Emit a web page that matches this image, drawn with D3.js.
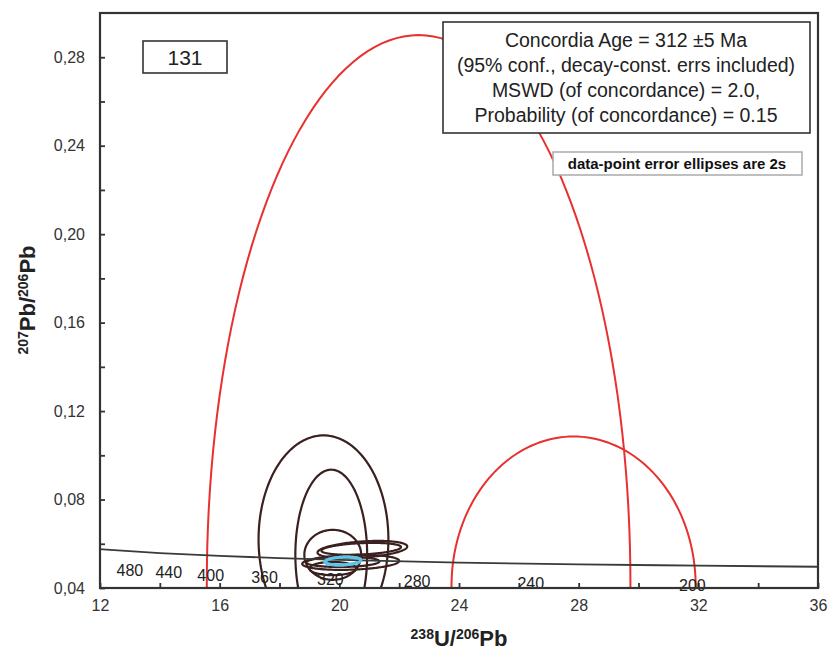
<!DOCTYPE html>
<html>
<head>
<meta charset="utf-8">
<script src="https://cdn.jsdelivr.net/npm/d3@7"></script>
<style>
  body { margin: 0; background: #fff; }
  svg text { font-family: "Liberation Sans", Arial, sans-serif; }
</style>
</head>
<body>
<div id="chart-area"></div>
<script>
// Concordia curve (238U/206Pb vs 207Pb/206Pb)
const concX = [12, 14, 16, 18, 20, 24, 28, 32, 36];
const concY = [0.0576, 0.0558, 0.0545, 0.0535, 0.0527, 0.0515, 0.0507, 0.0501, 0.0496];

// Age marks along the concordia (Ma) and where their labels sit on the x axis
const ages = [480, 440, 400, 360, 320, 280, 240, 200];
const ageX = [13.0, 14.3, 15.7, 17.5, 19.7, 22.6, 26.4, 31.8];

// Error ellipses: centre, half-widths (2s) and correlation
const ellType = ["rejected", "rejected", "accepted", "accepted", "accepted", "accepted", "accepted", "accepted", "accepted", "accepted", "mean"];
const ellX    = [22.65, 27.83, 19.47, 19.73, 19.78, 20.77, 20.73, 20.38, 20.12, 19.78, 20.12];
const ellY    = [0.042, 0.041, 0.062, 0.055, 0.055, 0.0574, 0.0577, 0.0516, 0.0518, 0.0488, 0.0522];
const ellSx   = [7.08, 4.08, 2.17, 1.20, 0.95, 1.50, 1.33, 1.62, 1.22, 0.78, 0.60];
const ellSy   = [0.248, 0.0675, 0.047, 0.0385, 0.0113, 0.0039, 0.0027, 0.0034, 0.0023, 0.0030, 0.0018];
const ellRho  = [0, 0, 0, 0, 0, 0.35, 0.3, 0.2, 0.1, 0, 0.2];

// Axis ticks
const xTicks = [12, 14, 16, 18, 20, 22, 24, 26, 28, 30, 32, 34, 36];
const yTicks = [0.04, 0.06, 0.08, 0.10, 0.12, 0.14, 0.16, 0.18, 0.20, 0.22, 0.24, 0.26, 0.28];

const sampleName = "131";
const resultLines = [
  "Concordia Age = 312 \u00b15 Ma",
  "(95% conf., decay-const. errs included)",
  "MSWD (of concordance) = 2.0,",
  "Probability (of concordance) = 0.15"
];
const noteText = "data-point error ellipses are 2s";

// Canvas //
const W = 829, H = 653;
const plot = {left: 100, right: 818, top: 13, bottom: 588};

const svg = d3.select("#chart-area")
  .append("svg")
  .attr("width", W)
  .attr("height", H);

const xScale = d3.scaleLinear().domain([12, 36]).range([plot.left, plot.right]);
const yScale = d3.scaleLinear().domain([0.04, 0.30]).range([plot.bottom, plot.top]);

const typeColor = d3.scaleOrdinal()
  .domain(["rejected", "accepted", "mean"])
  .range(["#e8312f", "#3b2020", "#5cc4e4"]);

svg.append("clipPath").attr("id", "clip")
  .append("rect")
  .attr("x", plot.left).attr("y", plot.top)
  .attr("width", plot.right - plot.left)
  .attr("height", plot.bottom - plot.top);

// X axis
const xAxisCall = d3.axisBottom(xScale)
  .tickValues(xTicks)
  .tickSize(-5)
  .tickPadding(12)
  .tickFormat(d => d % 4 === 0 ? d : "");
const xAxis = svg.append("g")
  .attr("transform", "translate(0," + plot.bottom + ")")
  .call(xAxisCall);

// Y axis
const yAxisCall = d3.axisLeft(yScale)
  .tickValues(yTicks)
  .tickSize(-5)
  .tickPadding(15)
  .tickFormat(d => Math.round(d * 100) % 4 === 0 ? d3.format(".2f")(d).replace(".", ",") : "");
const yAxis = svg.append("g")
  .attr("transform", "translate(" + plot.left + ",0)")
  .call(yAxisCall);

[xAxis, yAxis].forEach(a => {
  a.select(".domain").remove();
  a.selectAll(".tick line").attr("stroke", "#333").attr("stroke-width", 1.8);
  a.selectAll(".tick text").attr("fill", "#333").attr("font-size", "16px");
});

// Ellipses //
const ellipses = ellType.map((t, i) => ({
  type: t, cx: ellX[i], cy: ellY[i], sx: ellSx[i], sy: ellSy[i], rho: ellRho[i]
}));

const ellPath = d3.line()
  .x(p => xScale(p[0]))
  .y(p => yScale(p[1]))
  .curve(d3.curveLinearClosed);

function outline(e) {
  const s = Math.sqrt(1 - e.rho * e.rho);
  return d3.range(0, 360, 2).map(a => {
    const th = a * Math.PI / 180;
    return [e.cx + e.sx * Math.cos(th),
            e.cy + e.sy * (e.rho * Math.cos(th) + s * Math.sin(th))];
  });
}

const gClip = svg.append("g").attr("clip-path", "url(#clip)");

gClip.selectAll("path.ell")
  .data(ellipses)
  .enter()
  .append("path")
  .attr("class", "ell")
  .attr("d", d => ellPath(outline(d)))
  .attr("fill", "none")
  .attr("stroke", d => typeColor(d.type))
  .attr("stroke-width", d => d.type === "mean" ? 3 : (d.type === "rejected" ? 2 : 2.2));

// Concordia curve
const concLine = d3.line()
  .x(d => xScale(d[0]))
  .y(d => yScale(d[1]))
  .curve(d3.curveMonotoneX);

gClip.append("path")
  .attr("d", concLine(concX.map((v, i) => [v, concY[i]])))
  .attr("fill", "none")
  .attr("stroke", "#3a3a3a")
  .attr("stroke-width", 1.8);

// redraw the mean ellipse on top of the curve
gClip.selectAll("path.mean")
  .data(ellipses.filter(d => d.type === "mean"))
  .enter()
  .append("path")
  .attr("d", d => ellPath(outline(d)))
  .attr("fill", "none")
  .attr("stroke", d => typeColor(d.type))
  .attr("stroke-width", 3);

// Age labels under the curve
const concAt = d3.scaleLinear().domain(concX).range(concY);
svg.selectAll("text.age")
  .data(ages)
  .enter()
  .append("text")
  .attr("class", "age")
  .attr("x", (d, i) => xScale(ageX[i]))
  .attr("y", (d, i) => yScale(concAt(ageX[i])) + 25)
  .attr("text-anchor", "middle")
  .attr("font-size", "16px")
  .attr("fill", "#222")
  .text(d => d);

// Frame
svg.append("rect")
  .attr("x", plot.left).attr("y", plot.top)
  .attr("width", plot.right - plot.left)
  .attr("height", plot.bottom - plot.top)
  .attr("fill", "none")
  .attr("stroke", "#333")
  .attr("stroke-width", 2.2);

// Sample label
svg.append("rect")
  .attr("x", 143).attr("y", 41).attr("width", 84).attr("height", 32)
  .attr("fill", "#fff").attr("stroke", "#333").attr("stroke-width", 1.6);
svg.append("text")
  .attr("x", 185).attr("y", 65)
  .attr("text-anchor", "middle")
  .attr("font-size", "21px")
  .attr("fill", "#222")
  .text(sampleName);

// Result box
svg.append("rect")
  .attr("x", 443).attr("y", 22).attr("width", 367).attr("height", 111)
  .attr("fill", "#fff").attr("stroke", "#333").attr("stroke-width", 1.6);
svg.selectAll("text.res")
  .data(resultLines)
  .enter()
  .append("text")
  .attr("class", "res")
  .attr("x", 626)
  .attr("y", (d, i) => 47 + i * 25)
  .attr("text-anchor", "middle")
  .attr("font-size", "19.5px")
  .attr("fill", "#222")
  .text(d => d);

// Ellipse note
svg.append("rect")
  .attr("x", 553).attr("y", 152).attr("width", 249).attr("height", 23)
  .attr("fill", "#fff").attr("stroke", "#aaa").attr("stroke-width", 1.5);
svg.append("text")
  .attr("x", 677).attr("y", 169)
  .attr("text-anchor", "middle")
  .attr("font-size", "15px")
  .attr("font-weight", "bold")
  .attr("fill", "#111")
  .text(noteText);

// Axis titles
const xTitle = svg.append("text")
  .attr("x", 459).attr("y", 646)
  .attr("text-anchor", "middle")
  .attr("font-weight", "bold")
  .attr("font-size", "22px")
  .attr("fill", "#222");
xTitle.append("tspan").attr("font-size", "14px").attr("dy", "-7").text("238");
xTitle.append("tspan").attr("dy", "7").text("U/");
xTitle.append("tspan").attr("font-size", "14px").attr("dy", "-7").text("206");
xTitle.append("tspan").attr("dy", "7").text("Pb");

const yTitle = svg.append("text")
  .attr("transform", "translate(35,300) rotate(-90)")
  .attr("text-anchor", "middle")
  .attr("font-weight", "bold")
  .attr("font-size", "22px")
  .attr("fill", "#222");
yTitle.append("tspan").attr("font-size", "14px").attr("dy", "-7").text("207");
yTitle.append("tspan").attr("dy", "7").text("Pb/");
yTitle.append("tspan").attr("font-size", "14px").attr("dy", "-7").text("206");
yTitle.append("tspan").attr("dy", "7").text("Pb");
</script>
</body>
</html>
